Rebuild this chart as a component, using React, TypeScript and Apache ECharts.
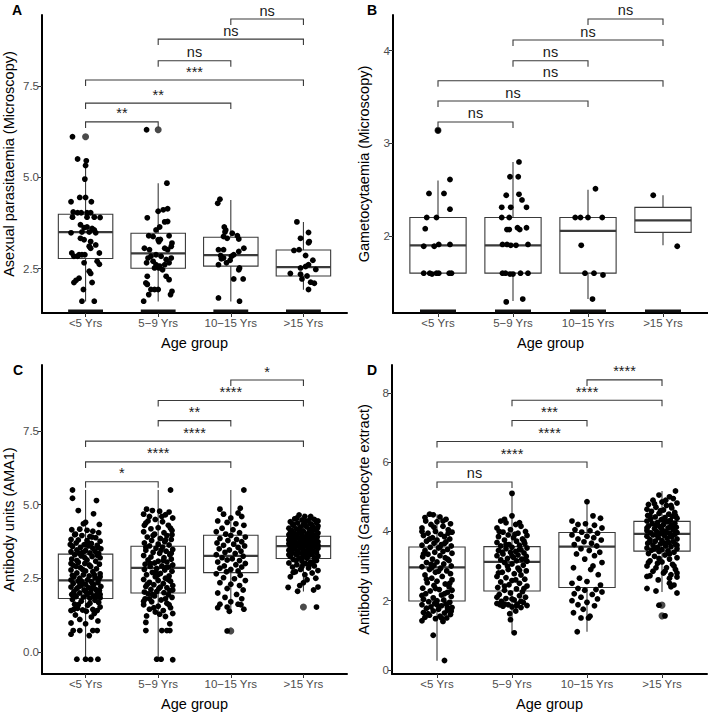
import React, { useEffect, useRef } from "react";
import * as echarts from "echarts";

const FONT = "'Liberation Sans', Arial, Helvetica, sans-serif";

const categories = ["<5 Yrs", "5\u22129 Yrs", "10\u221215 Yrs", ">15 Yrs"];
const xTitle = "Age group";
const panelLetters = ["A", "B", "C", "D"];
const yTitles = [
  "Asexual parasitaemia (Microscopy)",
  "Gametocytaemia (Microscopy)",
  "Antibody units (AMA1)",
  "Antibody units (Gametocyte extract)",
];

// y axis ranges and ticks
const yRangeA = [1.287, 9.44];
const yRangeB = [1.17, 4.385];
const yRangeC = [-0.755, 9.75];
const yRangeD = [-0.12, 8.81];
const yTicksA = [2.5, 5.0, 7.5];
const yTicksB = [2, 3, 4];
const yTicksC = [0.0, 2.5, 5.0, 7.5];
const yTicksD = [0, 2, 4, 6, 8];

// box stats per group: [lower whisker, q1, median, q3, upper whisker]
const boxA = [[1.6, 2.78, 3.5, 3.99, 5.32], [1.6, 2.51, 2.92, 3.47, 4.84], [1.6, 2.57, 2.87, 3.36, 4.38], [1.92, 2.3, 2.54, 3.01, 3.78]];
const boxB = [[1.6, 1.6, 1.9, 2.2, 2.6], [1.3, 1.6, 1.9, 2.2, 2.8], [1.32, 1.6, 2.055, 2.2, 2.5], [1.9, 2.04, 2.17, 2.31, 2.44]];
const boxC = [[-0.25, 1.81, 2.43, 3.32, 5.5], [-0.25, 2.0, 2.85, 3.59, 5.5], [1.32, 2.69, 3.26, 3.96, 5.5], [2.05, 3.17, 3.59, 3.93, 4.69]];
const boxD = [[0.26, 1.99, 2.96, 3.55, 4.5], [1.05, 2.28, 3.12, 3.56, 5.13], [1.1, 2.38, 3.56, 3.97, 4.86], [2.25, 3.43, 3.93, 4.29, 5.17]];

// boxplot outliers: [group, value]
const outA = [[1, 6.11], [2, 6.3]];
const outB = [[1, 3.14]];
const outC = [[3, 0.71], [4, 1.52]];
const outD = [[4, 1.87], [4, 1.56]];

// groups with observations at the axis floor (zero counts)
const floorA = [1, 2, 3, 4];
const floorB = [1, 2, 3, 4];

// significance brackets: [group1, group2, y, label]
const brA = [[1, 2, 6.515, "**"], [1, 3, 7.03, "**"], [1, 4, 7.66, "***"], [2, 3, 8.19, "ns"], [2, 4, 8.78, "ns"], [3, 4, 9.33, "ns"]];
const brB = [[1, 2, 3.231, "ns"], [1, 3, 3.457, "ns"], [1, 4, 3.676, "ns"], [2, 3, 3.892, "ns"], [2, 4, 4.115, "ns"], [3, 4, 4.342, "ns"]];
const brC = [[1, 2, 5.78, "*"], [1, 3, 6.456, "****"], [1, 4, 7.163, "****"], [2, 3, 7.86, "**"], [2, 4, 8.545, "****"], [3, 4, 9.24, "*"]];
const brD = [[1, 2, 5.43, "ns"], [1, 3, 6.006, "****"], [1, 4, 6.6, "****"], [2, 3, 7.204, "***"], [2, 4, 7.79, "****"], [3, 4, 8.38, "****"]];

// jittered observations per group: [x offset, value]
const ptsA1 = [[-0.18,6.11],[-0.11,5.5],[0.01,5.45],[0,5.32],[-0.01,4.95],[-0.2,4.33],[-0.08,4.45],[0.0,4.45],[0.08,4.33],[-0.17,4.05],[-0.11,4.03],[-0.06,4.03],[0.02,4.03],[0.07,4.03],[-0.18,3.91],[0.02,3.91],[0.12,3.91],[0.2,3.9],[-0.07,3.7],[-0.02,3.62],[0.02,3.64],[0.09,3.6],[0.12,3.56],[-0.2,3.48],[-0.05,3.5],[0.05,3.5],[0.14,3.48],[-0.07,3.33],[-0.02,3.29],[0.07,3.24],[0.14,3.15],[0.05,3.11],[0.07,3.06],[0.19,2.93],[-0.19,2.93],[-0.16,2.84],[-0.11,2.84],[-0.09,2.88],[-0.05,2.88],[-0.01,2.88],[0.16,2.7],[0.19,2.62],[-0.02,2.66],[0.05,2.43],[0.07,2.37],[-0.16,2.12],[-0.13,2.18],[-0.09,2.24],[0.09,2.12],[-0.03,1.93],[-0.05,1.61],[0.12,1.61]];
const ptsA2 = [[-0.16,6.3],[0.12,4.84],[0,4.07],[0.07,4.11],[0.13,4.14],[-0.15,3.89],[0.09,3.78],[0.13,3.79],[0.02,3.64],[-0.03,3.56],[-0.13,3.4],[-0.07,3.38],[0.03,3.3],[0.15,3.4],[0.19,3.2],[0,3.29],[0.01,3.24],[-0.19,3.06],[-0.12,3.02],[0.09,3.06],[0.13,3.02],[0.18,3.11],[-0.03,2.88],[-0.1,2.84],[-0.14,2.79],[0.04,2.84],[0.11,2.75],[0.18,2.79],[0.15,2.66],[-0.16,2.66],[-0.07,2.7],[-0.03,2.61],[0.02,2.57],[0.09,2.61],[-0.05,2.52],[0.01,2.52],[0.06,2.47],[-0.15,2.29],[0.11,2.29],[0.15,2.2],[-0.17,2.11],[-0.15,2.07],[0,1.93],[-0.1,1.93],[-0.05,1.93],[-0.13,1.79],[0.19,1.88],[0.17,1.79],[-0.2,1.61]];
const ptsA3 = [[-0.18,4.29],[-0.15,4.4],[-0.09,3.64],[-0.07,3.56],[-0.08,3.5],[-0.1,3.38],[-0.05,3.33],[0.02,3.47],[0.09,3.4],[0.11,3.31],[-0.17,3.02],[-0.1,3.02],[0.11,2.97],[0.18,3.06],[-0.14,2.86],[-0.1,2.79],[0.01,2.84],[0.04,2.88],[-0.13,2.77],[-0.17,2.61],[-0.06,2.66],[-0.01,2.73],[0.12,2.52],[0.11,2.47],[0.04,2.22],[0.17,2.22],[-0.17,1.7],[0.12,1.61]];
const ptsA4 = [[-0.09,3.78],[0.07,3.49],[-0.04,3.33],[0.08,3.24],[0.07,3.21],[-0.13,3.0],[-0.06,3.02],[0.03,2.86],[0.13,2.73],[0.07,2.61],[-0.04,2.52],[0.03,2.56],[0.17,2.48],[-0.18,2.37],[-0.04,2.35],[0.05,2.3],[-0.02,2.22],[0.1,2.13],[0.15,2.1],[0.07,1.93]];

const ptsB1 = [[0,3.14],[0.16,2.61],[-0.12,2.46],[0.08,2.46],[0.16,2.29],[-0.15,2.2],[-0.02,2.2],[-0.17,2.08],[-0.19,1.89],[-0.05,1.89],[0.01,1.91],[0.16,1.91],[-0.19,1.6],[-0.11,1.6],[-0.08,1.59],[-0.02,1.6],[0.01,1.6],[0.15,1.6],[0.18,1.6]];
const ptsB2 = [[0.08,2.8],[-0.04,2.64],[0.07,2.64],[-0.09,2.44],[0.08,2.45],[0.12,2.39],[-0.15,2.31],[-0.03,2.31],[0.18,2.31],[-0.15,2.2],[-0.05,2.2],[-0.08,2.07],[-0.05,2.07],[0.06,2.09],[0.09,2.07],[0.18,2.09],[-0.14,1.91],[-0.08,1.91],[-0.03,1.9],[0.04,1.9],[0.2,1.91],[-0.14,1.6],[-0.1,1.6],[-0.04,1.59],[0,1.59],[0.1,1.6],[0.2,1.6],[-0.09,1.29],[0.13,1.32]];
const ptsB3 = [[0.1,2.51],[-0.17,2.2],[-0.1,2.2],[0,2.2],[0.19,2.2],[-0.09,1.9],[-0.04,1.6],[0.08,1.6],[0.2,1.58],[0.06,1.32]];
const ptsB4 = [[-0.13,2.44],[0.19,1.89]];

const ptsC1 = [[-0.18,5.5],[-0.18,5.22],[0.15,5.14],[-0.1,4.8],[0.11,4.69],[0.0,4.4],[-0.03,4.35],[0.19,4.33],[-0.19,4.15],[-0.08,4.17],[0.02,4.13],[0.1,4.1],[0.18,4.05],[-0.15,3.98],[-0.05,3.95],[0.06,3.92],[0.14,3.88],[-0.2,3.82],[-0.1,3.8],[0.02,3.78],[0.2,3.76],[-0.13,3.7],[0.08,3.68],[-0.02,3.64],[0.16,3.62],[-0.18,3.58],[-0.07,3.55],[0.1,3.52],[0.21,3.5],[-0.12,3.46],[0.0,3.44],[0.13,3.42],[-0.2,3.4],[-0.04,3.38],[0.06,3.36],[0.18,3.34],[-0.15,3.3],[-0.06,3.26],[0.09,3.24],[0.2,3.2],[-0.19,3.15],[0.02,3.12],[0.14,3.08],[-0.1,3.04],[-0.01,3.0],[0.19,2.98],[-0.17,2.94],[0.07,2.9],[-0.07,2.86],[0.15,2.82],[-0.2,2.78],[0.0,2.75],[0.1,2.72],[-0.12,2.68],[0.2,2.65],[-0.03,2.62],[0.05,2.58],[-0.16,2.55],[0.13,2.52],[-0.08,2.5],[0.18,2.47],[0.03,2.45],[-0.2,2.44],[-0.1,2.4],[0.08,2.38],[0.17,2.35],[-0.17,2.32],[0.0,2.3],[0.11,2.27],[-0.06,2.25],[0.21,2.22],[-0.2,2.2],[0.04,2.18],[-0.12,2.15],[0.14,2.12],[-0.02,2.1],[0.19,2.08],[-0.16,2.05],[0.07,2.02],[-0.08,2.0],[0.16,1.98],[-0.19,1.95],[0.02,1.93],[0.11,1.9],[-0.13,1.88],[-0.03,1.86],[0.2,1.84],[0.06,1.82],[-0.18,1.78],[0.13,1.75],[-0.06,1.72],[0.18,1.68],[-0.15,1.62],[0.03,1.58],[0.2,1.52],[-0.11,1.48],[0.1,1.44],[-0.2,1.4],[0.16,1.4],[0.01,1.38],[-0.14,1.25],[0.08,1.18],[-0.08,1.1],[0.17,1.05],[-0.2,0.98],[0.0,0.95],[-0.17,0.72],[-0.08,0.72],[0.1,0.72],[0.16,0.72],[-0.2,0.6],[0.05,0.55],[-0.12,-0.25],[0,-0.25],[0.07,-0.26],[0.17,-0.25],
  [-0.14,4.0],[0.09,3.9],[-0.21,3.65],[0.04,3.6],[-0.09,3.35],[0.16,3.28],[-0.12,3.1],[0.05,2.95],[-0.04,2.8],[0.2,2.55],[-0.18,2.6],[0.1,2.3],[-0.09,2.22],[0.0,2.05],[-0.15,1.92],[0.14,1.85],[0.06,1.65],[-0.1,1.6],[0.2,1.95],[-0.05,2.38],[0.12,2.62],[-0.2,3.0],[0.17,3.55],[-0.01,3.2],[0.08,2.15],[-0.16,1.45],[0.12,1.3],[-0.04,1.42],[0.03,3.7],[-0.13,2.9]];
const ptsC2 = [[0.17,5.5],[-0.16,4.85],[-0.08,4.8],[0.02,4.78],[0.15,4.75],[-0.2,4.68],[0.1,4.66],[-0.12,4.6],[0.2,4.55],[-0.04,4.5],[0.06,4.42],[-0.17,4.38],[0.14,4.3],[0.0,4.22],[-0.1,4.18],[0.19,4.12],[-0.2,4.08],[0.08,4.05],[-0.05,4.0],[0.12,3.95],[-0.15,3.9],[0.03,3.85],[0.18,3.82],[-0.09,3.78],[0.09,3.74],[-0.19,3.7],[0.0,3.66],[0.15,3.63],[-0.12,3.6],[0.06,3.56],[-0.03,3.52],[0.2,3.48],[-0.17,3.45],[0.11,3.42],[-0.07,3.38],[0.02,3.35],[0.16,3.3],[-0.2,3.27],[-0.1,3.22],[0.08,3.2],[0.18,3.15],[-0.14,3.12],[0.0,3.08],[0.12,3.05],[-0.05,3.02],[-0.18,2.98],[0.2,2.95],[0.05,2.92],[-0.11,2.9],[0.14,2.88],[-0.02,2.83],[-0.19,2.8],[0.09,2.78],[0.19,2.74],[-0.08,2.7],[0.03,2.66],[-0.16,2.62],[0.15,2.58],[-0.04,2.55],[0.1,2.5],[-0.2,2.46],[0.0,2.42],[0.17,2.4],[-0.12,2.36],[0.07,2.32],[-0.06,2.28],[0.2,2.25],[-0.17,2.22],[0.12,2.18],[0.01,2.15],[-0.1,2.12],[0.16,2.08],[-0.02,2.05],[-0.19,2.03],[0.08,2.01],[-0.14,1.97],[0.14,1.94],[-0.05,1.9],[0.19,1.85],[-0.18,1.8],[0.04,1.76],[-0.09,1.7],[0.12,1.65],[-0.2,1.6],[0.0,1.55],[0.17,1.5],[-0.12,1.45],[0.07,1.4],[-0.04,1.35],[0.2,1.3],[-0.16,1.22],[0.1,1.2],[-0.17,1.0],[0.16,0.95],[-0.17,0.72],[0.05,0.72],[0.12,0.72],[0.16,0.72],[-0.02,-0.25],[0.04,-0.25],[0.2,-0.27],
  [-0.14,4.45],[0.05,4.6],[0.17,4.2],[-0.07,3.95],[0.1,3.8],[-0.17,3.55],[0.04,3.45],[0.18,3.35],[-0.11,3.0],[0.1,2.86],[-0.03,2.7],[0.14,2.45],[-0.15,2.3],[0.03,2.2],[-0.08,1.95],[0.1,1.8],[-0.2,1.72],[0.15,1.6],[-0.06,1.5],[0.02,1.28],[0.19,3.98],[-0.19,4.3],[0.07,3.1],[-0.01,2.6],[0.2,2.1],[-0.12,1.8]];
const ptsC3 = [[0.18,5.5],[-0.15,4.85],[0.13,4.88],[-0.1,4.68],[0.1,4.72],[0.0,4.55],[0.15,4.6],[-0.18,4.45],[-0.05,4.4],[0.07,4.35],[0.18,4.3],[-0.12,4.2],[0.03,4.15],[-0.2,4.08],[0.12,4.05],[-0.07,4.0],[0.0,3.95],[0.2,3.9],[-0.15,3.85],[0.08,3.82],[-0.04,3.78],[0.15,3.74],[-0.19,3.7],[0.04,3.66],[-0.1,3.62],[0.19,3.6],[0.1,3.55],[-0.16,3.5],[-0.02,3.46],[0.14,3.42],[-0.08,3.38],[0.06,3.34],[-0.2,3.3],[0.17,3.25],[-0.12,3.2],[0.02,3.16],[-0.05,3.12],[0.12,3.1],[-0.18,3.05],[0.2,3.0],[0.07,2.96],[-0.09,2.92],[0.15,2.88],[-0.15,2.84],[0.0,2.8],[0.1,2.75],[-0.06,2.72],[-0.2,2.65],[0.13,2.6],[-0.1,2.52],[0.05,2.48],[0.2,2.42],[-0.15,2.35],[0.0,2.3],[0.12,2.25],[-0.05,2.15],[0.17,2.1],[-0.18,2.0],[0.08,1.95],[-0.08,1.85],[0.15,1.8],[0.0,1.7],[-0.15,1.62],[0.1,1.62],[0.14,1.6],[-0.05,1.52],[0.18,1.45],[-0.18,1.5],[-0.02,1.38],[-0.05,0.71]];
const ptsC4 = [[-0.06,4.65],[0.02,4.6],[0.1,4.55],[-0.12,4.52],[0.15,4.5],[-0.02,4.48],[0.06,4.45],[-0.18,4.42],[0.18,4.4],[-0.08,4.38],[0.1,4.35],[0.0,4.33],[-0.14,4.3],[0.2,4.28],[0.04,4.26],[-0.04,4.24],[0.13,4.22],[-0.2,4.2],[-0.1,4.18],[0.08,4.16],[0.17,4.14],[-0.16,4.12],[0.0,4.1],[0.11,4.08],[-0.06,4.06],[0.2,4.04],[-0.12,4.02],[0.05,4.0],[-0.2,3.98],[0.15,3.97],[-0.02,3.95],[0.09,3.94],[-0.15,3.92],[0.19,3.9],[0.02,3.89],[-0.08,3.88],[0.12,3.86],[-0.19,3.85],[0.06,3.84],[-0.03,3.82],[0.16,3.8],[-0.12,3.79],[0.0,3.78],[0.1,3.76],[-0.17,3.75],[0.2,3.74],[-0.06,3.72],[0.04,3.71],[0.14,3.7],[-0.1,3.68],[-0.2,3.67],[0.08,3.66],[0.18,3.65],[-0.02,3.64],[-0.14,3.63],[0.12,3.62],[0.02,3.61],[-0.08,3.6],[0.16,3.58],[-0.18,3.56],[0.06,3.55],[-0.04,3.53],[0.2,3.52],[-0.12,3.5],[0.1,3.48],[0.0,3.46],[-0.2,3.45],[0.14,3.43],[-0.08,3.42],[0.04,3.4],[0.18,3.38],[-0.15,3.36],[-0.02,3.34],[0.12,3.32],[-0.1,3.3],[0.08,3.28],[0.2,3.26],[-0.18,3.24],[0.0,3.22],[0.15,3.2],[-0.06,3.19],[0.05,3.18],[-0.14,3.14],[0.18,3.1],[-0.02,3.08],[0.1,3.05],[-0.2,3.02],[0.03,3.0],[-0.09,2.96],[0.15,2.92],[-0.15,2.88],[0.07,2.85],[-0.04,2.8],[0.2,2.76],[-0.11,2.72],[0.12,2.68],[0.02,2.62],[-0.18,2.55],[0.17,2.5],[0.05,2.45],[0.0,2.35],[-0.05,2.25],[0.2,2.2],[-0.21,2.19],[0.14,2.1],[-0.08,2.06],[0.18,1.52],
  [0.03,4.42],[-0.15,4.35],[0.12,4.3],[-0.05,4.15],[0.19,4.2],[-0.18,4.05],[0.07,4.02],[-0.09,3.96],[0.0,3.86],[0.15,3.84],[-0.12,3.7],[0.06,3.68],[-0.03,3.58],[0.2,3.62],[-0.16,3.48],[0.1,3.4],[-0.07,3.36],[0.04,3.25],[0.16,3.15],[-0.1,3.1],[-0.2,3.3],[0.08,2.95],[-0.02,2.9],[0.13,3.0],[-0.14,2.7],[0.2,4.45],[-0.09,4.55],[0.1,4.6],[-0.2,3.8],[0.02,3.35]];

const ptsD1 = [[-0.1,4.5],[-0.05,4.48],[0.04,4.42],[0.12,4.35],[-0.15,4.3],[0.0,4.28],[0.18,4.22],[-0.08,4.2],[0.08,4.15],[-0.2,4.1],[0.15,4.05],[-0.02,4.0],[0.2,3.98],[-0.12,3.95],[0.05,3.92],[-0.18,3.88],[0.1,3.85],[-0.06,3.82],[0.17,3.78],[0.0,3.75],[-0.14,3.72],[0.12,3.7],[-0.04,3.66],[0.06,3.62],[-0.2,3.6],[0.19,3.58],[-0.09,3.54],[0.02,3.52],[0.14,3.48],[-0.16,3.45],[0.08,3.42],[-0.03,3.4],[0.2,3.37],[-0.12,3.34],[0.04,3.3],[-0.19,3.27],[0.11,3.24],[-0.06,3.2],[0.16,3.16],[0.0,3.12],[-0.14,3.1],[0.09,3.06],[-0.04,3.02],[0.19,3.0],[-0.2,2.98],[0.05,2.94],[-0.1,2.9],[0.13,2.86],[-0.02,2.82],[0.18,2.78],[-0.16,2.74],[0.07,2.7],[-0.07,2.65],[0.2,2.6],[0.0,2.56],[-0.13,2.52],[0.11,2.48],[-0.04,2.44],[0.16,2.4],[-0.19,2.36],[0.03,2.32],[-0.09,2.28],[0.14,2.24],[-0.15,2.2],[0.06,2.16],[0.19,2.12],[-0.05,2.08],[-0.18,2.04],[0.09,2.02],[0.0,2.0],[-0.11,1.97],[0.17,1.95],[-0.03,1.92],[0.12,1.9],[-0.2,1.88],[0.06,1.85],[-0.08,1.82],[0.2,1.8],[-0.14,1.78],[0.02,1.75],[0.14,1.72],[-0.05,1.7],[-0.18,1.66],[0.1,1.64],[0.18,1.6],[-0.1,1.58],[0.04,1.55],[-0.16,1.52],[0.13,1.5],[-0.02,1.48],[-0.2,1.42],[0.08,1.4],[-0.05,1.0],[0.1,0.27],
  [-0.16,4.4],[0.08,4.3],[-0.04,4.12],[0.15,3.95],[-0.1,3.78],[0.04,3.55],[-0.18,3.35],[0.14,3.2],[-0.08,3.05],[0.02,2.85],[-0.14,2.62],[0.17,2.5],[-0.02,2.35],[0.1,2.2],[-0.2,2.15],[0.0,1.88],[0.14,1.8],[-0.12,1.62],[0.06,1.5],[0.19,1.7],[-0.07,2.95],[0.1,3.65],[-0.2,4.0],[0.2,2.3]];
const ptsD2 = [[0.0,5.1],[0.0,4.45],[-0.15,4.3],[-0.08,4.25],[0.05,4.2],[0.12,4.15],[-0.2,4.1],[-0.02,4.05],[0.18,4.0],[-0.12,3.98],[0.08,3.95],[-0.05,3.9],[0.2,3.88],[-0.18,3.85],[0.02,3.82],[0.14,3.78],[-0.1,3.75],[0.06,3.72],[-0.2,3.68],[0.17,3.65],[-0.04,3.62],[0.1,3.6],[-0.15,3.58],[0.0,3.54],[0.2,3.52],[-0.08,3.5],[0.12,3.47],[-0.18,3.45],[0.05,3.42],[-0.02,3.4],[0.16,3.38],[-0.12,3.35],[0.08,3.32],[-0.2,3.3],[0.19,3.28],[0.02,3.25],[-0.06,3.22],[0.13,3.2],[-0.15,3.18],[0.06,3.15],[0.2,3.14],[-0.1,3.1],[0.0,3.06],[0.15,3.02],[-0.18,2.98],[0.08,2.94],[-0.05,2.9],[0.19,2.86],[-0.13,2.82],[0.03,2.78],[0.12,2.74],[-0.2,2.7],[-0.08,2.66],[0.17,2.62],[0.0,2.58],[-0.15,2.54],[0.1,2.5],[-0.04,2.46],[0.2,2.42],[-0.19,2.38],[0.06,2.34],[-0.1,2.3],[0.14,2.26],[-0.02,2.22],[-0.17,2.18],[0.1,2.14],[0.18,2.1],[-0.08,2.06],[0.03,2.02],[-0.14,1.98],[0.15,1.95],[-0.2,1.92],[0.07,1.9],[-0.05,1.88],[0.2,1.86],[-0.12,1.84],[0.0,1.82],[0.12,1.8],[0.05,1.7],[-0.03,1.62],[-0.02,1.45],[0.03,1.07],
  [-0.1,4.35],[0.1,4.25],[-0.17,4.0],[0.04,3.92],[0.16,3.72],[-0.08,3.62],[0.1,3.48],[-0.13,3.4],[0.0,3.3],[0.18,3.2],[-0.06,3.0],[0.1,2.88],[-0.18,2.8],[0.05,2.6],[-0.1,2.42],[0.16,2.35],[-0.2,2.1],[0.0,2.05],[0.12,1.98],[-0.1,1.9],[0.06,1.85],[-0.16,1.88]];
const ptsD3 = [[0.0,4.86],[0.08,4.45],[-0.2,4.3],[0.18,4.38],[-0.12,4.2],[-0.02,4.22],[0.1,4.18],[0.2,4.1],[-0.16,4.05],[0.04,4.02],[-0.07,3.98],[0.14,3.95],[-0.2,3.9],[0.0,3.86],[0.09,3.82],[-0.12,3.78],[0.19,3.75],[-0.04,3.7],[0.06,3.66],[-0.17,3.62],[0.13,3.58],[-0.08,3.5],[0.03,3.45],[0.17,3.4],[-0.14,3.35],[0.1,3.3],[-0.03,3.2],[0.2,3.1],[0.08,3.0],[-0.18,2.95],[0.05,2.9],[0.15,2.75],[-0.1,2.65],[0.0,2.55],[-0.2,2.5],[0.18,2.45],[-0.12,2.35],[0.12,2.32],[-0.03,2.3],[0.2,2.25],[-0.17,2.2],[0.07,2.18],[-0.08,2.1],[0.14,2.05],[-0.2,2.0],[0.0,1.95],[-0.12,1.88],[0.1,1.85],[-0.05,1.75],[-0.18,1.65],[0.04,1.55],[-0.08,1.5],[0.02,1.5],[-0.13,1.1]];
const ptsD4 = [[0.18,5.17],[-0.04,5.05],[0.1,5.0],[0.15,4.95],[-0.12,4.9],[0.0,4.85],[0.2,4.82],[-0.18,4.78],[0.06,4.75],[-0.08,4.7],[0.13,4.68],[-0.2,4.64],[0.02,4.62],[-0.14,4.58],[0.17,4.55],[-0.04,4.52],[0.09,4.5],[-0.19,4.46],[0.14,4.44],[-0.09,4.42],[0.04,4.4],[0.2,4.38],[-0.15,4.36],[-0.01,4.34],[0.11,4.32],[-0.2,4.3],[0.07,4.28],[-0.06,4.26],[0.17,4.24],[-0.13,4.22],[0.02,4.2],[0.12,4.18],[-0.18,4.16],[-0.03,4.14],[0.19,4.12],[0.08,4.1],[-0.1,4.08],[0.0,4.06],[0.15,4.04],[-0.2,4.02],[-0.07,4.0],[0.05,3.99],[0.2,3.97],[-0.15,3.96],[0.1,3.95],[-0.02,3.94],[0.17,3.92],[-0.12,3.9],[0.03,3.88],[-0.2,3.86],[0.13,3.84],[-0.05,3.82],[0.07,3.8],[0.2,3.78],[-0.16,3.76],[0.0,3.74],[-0.09,3.72],[0.15,3.7],[0.09,3.68],[-0.19,3.66],[-0.02,3.64],[0.18,3.62],[-0.12,3.6],[0.05,3.58],[0.12,3.56],[-0.06,3.54],[-0.2,3.52],[0.2,3.5],[0.0,3.48],[-0.14,3.46],[0.08,3.44],[-0.04,3.42],[0.16,3.4],[-0.18,3.36],[0.04,3.32],[-0.1,3.28],[0.2,3.24],[0.1,3.2],[-0.16,3.15],[0.0,3.12],[-0.06,3.08],[0.14,3.05],[-0.2,3.0],[0.06,2.95],[0.18,2.9],[-0.12,2.85],[0.02,2.8],[0.12,2.75],[-0.16,2.72],[0.2,2.68],[-0.05,2.6],[0.1,2.5],[0.16,2.45],[0.12,2.4],[-0.2,2.35],[-0.08,2.28],[0.2,2.22],[-0.04,1.87],[0.04,1.56],
  [-0.1,4.8],[0.12,4.75],[-0.02,4.6],[0.18,4.45],[-0.16,4.45],[0.05,4.3],[-0.08,4.18],[0.14,4.1],[-0.2,4.1],[0.0,3.98],[0.11,3.9],[-0.06,3.88],[-0.16,3.7],[0.04,3.66],[0.2,3.6],[-0.1,3.5],[0.1,3.35],[-0.04,3.22],[-0.18,3.1],[0.16,3.0],[0.04,2.85],[-0.08,2.95],[0.2,2.8],[-0.2,2.7],[0.1,2.65],[0.05,4.9]];

const ptsA = [ptsA1, ptsA2, ptsA3, ptsA4];
const ptsB = [ptsB1, ptsB2, ptsB3, ptsB4];
const ptsC = [ptsC1, ptsC2, ptsC3, ptsC4];
const ptsD = [ptsD1, ptsD2, ptsD3, ptsD4];

const panels = [
  { grid: { left: 42, top: 15, width: 305, height: 298 }, range: yRangeA, ticks: yTicksA, dec: 1, box: boxA, out: outA, floor: floorA, br: brA, pts: ptsA, nameGap: 26, letter: [12, 3] },
  { grid: { left: 393, top: 15, width: 315, height: 298 }, range: yRangeB, ticks: yTicksB, dec: 0, box: boxB, out: outB, floor: floorB, br: brB, pts: ptsB, nameGap: 22, letter: [367, 3] },
  { grid: { left: 42, top: 365, width: 305, height: 312 }, range: yRangeC, ticks: yTicksC, dec: 1, box: boxC, out: outC, floor: [], br: brC, pts: ptsC, nameGap: 26, letter: [13, 363] },
  { grid: { left: 392, top: 365, width: 315, height: 311 }, range: yRangeD, ticks: yTicksD, dec: 0, box: boxD, out: outD, floor: [], br: brD, pts: ptsD, nameGap: 21, letter: [367, 363] },
];

function buildOption() {
  const grid: any[] = [];
  const xAxis: any[] = [];
  const yAxis: any[] = [];
  const series: any[] = [];
  const graphic: any[] = [];

  panels.forEach((p, k) => {
    grid.push({ ...p.grid, containLabel: false });
    xAxis.push({
      gridIndex: k, type: "value", min: 0.4, max: 4.6,
      splitLine: { show: false },
      axisLine: { show: true, onZero: false, lineStyle: { color: "#000", width: 2 } },
      axisTick: { show: true, customValues: [1, 2, 3, 4], length: 4, lineStyle: { color: "#333", width: 1 } },
      axisLabel: { show: true, customValues: [1, 2, 3, 4], formatter: (v: number) => categories[Math.round(v) - 1] || "", color: "#4d4d4d", fontSize: 11.5, margin: 4, fontFamily: FONT },
      name: xTitle, nameLocation: "middle", nameGap: 22,
      nameTextStyle: { fontSize: 14.5, color: "#000", fontFamily: FONT },
    });
    yAxis.push({
      gridIndex: k, type: "value", min: p.range[0], max: p.range[1],
      splitLine: { show: false },
      axisLine: { show: true, onZero: false, lineStyle: { color: "#000", width: 2 } },
      axisTick: { show: true, customValues: p.ticks, length: 4, lineStyle: { color: "#333", width: 1 } },
      axisLabel: { show: true, customValues: p.ticks, formatter: (v: number) => v.toFixed(p.dec), color: "#4d4d4d", fontSize: 11.5, margin: 3, fontFamily: FONT },
      name: yTitles[k], nameLocation: "middle", nameGap: p.nameGap,
      nameTextStyle: { fontSize: 14.5, color: "#000", fontFamily: FONT },
    });

    // boxes
    series.push({
      type: "custom", xAxisIndex: k, yAxisIndex: k, z: 2,
      data: p.box.map((b, i) => [i + 1, ...b]),
      encode: { x: 0, y: [1, 2, 3, 4, 5] },
      renderItem: (params: any, api: any) => {
        const x = api.value(0);
        const lo = api.coord([x, api.value(1)]);
        const q1 = api.coord([x, api.value(2)]);
        const md = api.coord([x, api.value(3)]);
        const q3 = api.coord([x, api.value(4)]);
        const hi = api.coord([x, api.value(5)]);
        const l = api.coord([x - 0.375, 0])[0];
        const r = api.coord([x + 0.375, 0])[0];
        const st = { stroke: "#3a3a3a", lineWidth: 1.1 };
        return {
          type: "group",
          children: [
            { type: "line", shape: { x1: lo[0], y1: lo[1], x2: q1[0], y2: q1[1] }, style: st },
            { type: "line", shape: { x1: q3[0], y1: q3[1], x2: hi[0], y2: hi[1] }, style: st },
            { type: "rect", shape: { x: l, y: q3[1], width: r - l, height: q1[1] - q3[1] }, style: { ...st, fill: "#fff" } },
            { type: "line", shape: { x1: l, y1: md[1], x2: r, y2: md[1] }, style: { stroke: "#3a3a3a", lineWidth: 2.3 } },
          ],
        };
      },
    });

    // outliers
    series.push({
      type: "scatter", xAxisIndex: k, yAxisIndex: k, z: 3,
      data: p.out, symbolSize: 7, itemStyle: { color: "#4a4a4a", opacity: 1 },
    });

    // floor (values at axis minimum)
    if (p.floor.length) {
      series.push({
        type: "custom", xAxisIndex: k, yAxisIndex: k, z: 5,
        data: p.floor.map((g) => [g, p.range[0]]),
        encode: { x: 0, y: 1 },
        renderItem: (params: any, api: any) => {
          const g = api.value(0);
          const a = api.coord([g - 0.24, p.range[0]]);
          const b = api.coord([g + 0.24, p.range[0]]);
          return { type: "line", shape: { x1: a[0], y1: a[1] - 2, x2: b[0], y2: b[1] - 2 }, style: { stroke: "#111", lineWidth: 3 } };
        },
      });
    }

    // jittered points
    series.push({
      type: "scatter", xAxisIndex: k, yAxisIndex: k, z: 4,
      data: p.pts.flatMap((g, i) => g.map((d) => [i + 1 + d[0], d[1]])),
      symbolSize: 5.8, itemStyle: { color: "#000", opacity: 1 },
    });

    // brackets
    series.push({
      type: "custom", xAxisIndex: k, yAxisIndex: k, z: 6,
      data: p.br.map((b) => [b[0], b[1], b[2]]),
      encode: { x: [0, 1], y: 2 },
      renderItem: (params: any, api: any) => {
        const b = p.br[params.dataIndex];
        const a = api.coord([b[0] as number, b[2] as number]);
        const c = api.coord([b[1] as number, b[2] as number]);
        const t = 6;
        return {
          type: "group",
          children: [
            { type: "polyline", shape: { points: [[a[0], a[1] + t], [a[0], a[1]], [c[0], c[1]], [c[0], c[1] + t]] }, style: { stroke: "#3a3a3a", lineWidth: 1.1, fill: "none" } },
            { type: "text", x: (a[0] + c[0]) / 2, y: a[1] - 1, style: { text: b[3] as string, fontSize: 14.5, fill: "#1a1a1a", align: "center", verticalAlign: "bottom", fontFamily: FONT } },
          ],
        };
      },
    });

    graphic.push({
      type: "text", left: p.letter[0], top: p.letter[1],
      style: { text: panelLetters[k], fontSize: 14, fontWeight: "bold", fill: "#000", fontFamily: FONT },
    });
  });

  return {
    animation: false,
    backgroundColor: "#fff",
    textStyle: { fontFamily: FONT },
    grid, xAxis, yAxis, series, graphic,
  };
}

export default function App() {
  const ref = useRef<HTMLDivElement>(null);
  useEffect(() => {
    if (!ref.current) return;
    const chart = echarts.init(ref.current, null, { renderer: "svg" });
    chart.setOption(buildOption() as any);
    return () => chart.dispose();
  }, []);
  return (
    <div
      ref={ref}
      style={{ position: "absolute", left: 0, top: 0, width: 708, height: 712, background: "#fff" }}
    />
  );
}
